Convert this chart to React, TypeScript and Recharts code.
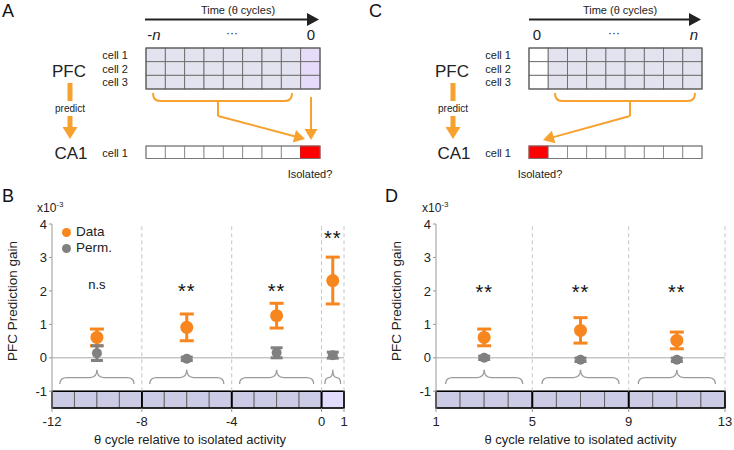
import React from 'react';
import {
  ComposedChart,
  Scatter,
  ErrorBar,
  XAxis,
  YAxis,
  ReferenceLine,
  ReferenceArea,
  Legend,
  Label
} from 'recharts';

const FONT = '"Liberation Sans", Arial, Helvetica, sans-serif';
const ORANGE = '#f7861f';
const GRAY = '#808080';
const ARROW = '#f7a12f';
const CELL = '#cbcbe6';
const CELL_HI = '#e3dcfb';
const SCHEME_CELL = '#e3e3ef';
const SCHEME_HI = '#e6dcfa';

// ---- panel B : PFC cycles before the isolated CA1 activity ----
const bTicks = [-12, -8, -4, 0, 1];
const bData = [
  { x: -10, y: 0.61, err: 0.25 },
  { x: -6, y: 0.91, err: 0.4 },
  { x: -2, y: 1.26, err: 0.37 },
  { x: 0.5, y: 2.31, err: 0.7 }
];
const bPerm = [
  { x: -10, y: 0.14, err: 0.22 },
  { x: -6, y: -0.03, err: 0.05 },
  { x: -2, y: 0.15, err: 0.15 },
  { x: 0.5, y: 0.08, err: 0.09 }
];
const bMarks = [
  { x: -10, y: 2.22, text: 'n.s' },
  { x: -6, y: 2.08, text: '**' },
  { x: -2, y: 2.08, text: '**' },
  { x: 0.5, y: 3.68, text: '**' }
];
const bGroups = [[-12, -8], [-8, -4], [-4, 0], [0, 1]];
const bBraces = [[-11.65, -8.35], [-7.65, -4.35], [-3.65, -0.35], [0.15, 0.85]];
const bDividers = [-8, -4, 0, 1];

// ---- panel D : PFC cycles after the isolated CA1 activity ----
const dTicks = [1, 5, 9, 13];
const dData = [
  { x: 3, y: 0.61, err: 0.25 },
  { x: 7, y: 0.82, err: 0.38 },
  { x: 11, y: 0.52, err: 0.25 }
];
const dPerm = [
  { x: 3, y: 0.0, err: 0.05 },
  { x: 7, y: -0.06, err: 0.05 },
  { x: 11, y: -0.06, err: 0.05 }
];
const dMarks = [
  { x: 3, y: 2.05, text: '**' },
  { x: 7, y: 2.05, text: '**' },
  { x: 11, y: 2.05, text: '**' }
];
const dGroups = [[1, 5], [5, 9], [9, 13]];
const dBraces = [[1.4, 4.6], [5.4, 8.6], [9.4, 12.6]];
const dDividers = [5, 9, 13];

const yTicks = [-1, 0, 1, 2, 3, 4];
const legendItems = [
  { name: 'Data', color: ORANGE },
  { name: 'Perm.', color: GRAY }
];
const cellNames = ['cell 1', 'cell 2', 'cell 3'];

const Brace = (p: any) => {
  const { x, y, width: w, height: h } = p;
  const cx = x + w / 2;
  const m = y + h * 0.55;
  const r = Math.min(h * 0.5, w / 4);
  const d = `M${x},${y + h} Q${x},${m} ${x + r},${m} L${cx - r},${m} Q${cx},${m} ${cx},${y} Q${cx},${m} ${cx + r},${m} L${x + w - r},${m} Q${x + w},${m} ${x + w},${y + h}`;
  return <path d={d} fill="none" stroke="#9a9a9a" strokeWidth={1.3} />;
};

const Mark = (p: any) => {
  const star = p.payload.text === '**';
  return (
    <text
      x={p.cx}
      y={p.cy + (star ? 10 : 5)}
      textAnchor="middle"
      fontSize={star ? 20 : 13}
      letterSpacing={star ? 1 : 0}
      fontFamily={FONT}
      fill="#111"
    >
      {p.payload.text}
    </text>
  );
};

const LegendBox = () => (
  <div style={{ fontFamily: FONT, fontSize: 13.5, color: '#222', lineHeight: '16px' }}>
    {legendItems.map((it) => (
      <div key={it.name} style={{ display: 'flex', alignItems: 'center' }}>
        <span
          style={{ width: 9, height: 9, borderRadius: '50%', background: it.color, marginRight: 5, display: 'inline-block' }}
        />
        {it.name}
      </div>
    ))}
  </div>
);

function unitCells(groups: number[][]) {
  const cells: number[][] = [];
  groups.forEach(([a, b]) => {
    for (let v = a; v < b; v++) cells.push([v, v + 1]);
  });
  return cells;
}

interface GainProps {
  left: number;
  margin: { top: number; right: number; bottom: number; left: number };
  domain: [number, number];
  ticks: number[];
  data: any[];
  perm: any[];
  marks: any[];
  groups: number[][];
  braces: number[][];
  dividers: number[];
  highlight: number[] | null;
  showLegend: boolean;
  labelShift: number;
}

function GainChart(props: GainProps) {
  const cells = unitCells(props.groups);
  return (
    <div style={{ position: 'absolute', left: props.left, top: 0 }}>
      <ComposedChart width={367} height={450} margin={props.margin}>
        <XAxis
          type="number"
          dataKey="x"
          domain={props.domain}
          ticks={props.ticks}
          interval={0}
          allowDataOverflow
          axisLine={false}
          tickLine={{ stroke: '#999' }}
          tickSize={4}
          tickMargin={5}
          height={42}
          tick={{ fontSize: 13, fill: '#222', fontFamily: FONT }}
        >
          <Label
            content={(lp: any) => {
              const vb = lp.viewBox;
              return (
                <text
                  x={vb.x + vb.width / 2 + props.labelShift}
                  y={vb.y + 36}
                  textAnchor="middle"
                  fontSize={13}
                  fontFamily={FONT}
                  fill="#222"
                >
                  θ cycle relative to isolated activity
                </text>
              );
            }}
          />
        </XAxis>
        <YAxis
          type="number"
          dataKey="y"
          domain={[-1.5, 4]}
          ticks={yTicks}
          interval={0}
          width={30}
          axisLine={{ stroke: '#999' }}
          tickLine={{ stroke: '#999' }}
          tickSize={3}
          tickMargin={2}
          tick={{ fontSize: 13, fill: '#222', fontFamily: FONT }}
        >
          <Label
            content={(lp: any) => {
              const vb = lp.viewBox;
              const cx = vb.x - 10;
              const cy = 301;
              return (
                <text
                  x={cx}
                  y={cy}
                  transform={`rotate(-90 ${cx} ${cy})`}
                  textAnchor="middle"
                  dominantBaseline="central"
                  fontSize={13.5}
                  fontFamily={FONT}
                  fill="#222"
                >
                  PFC Prediction gain
                </text>
              );
            }}
          />
        </YAxis>

        <ReferenceLine y={0} stroke="#aaa" strokeWidth={1} />
        {props.dividers.map((d) => (
          <ReferenceLine
            key={`div-${d}`}
            segment={[{ x: d, y: -1 }, { x: d, y: 4 }]}
            stroke="#c6c6c6"
            strokeDasharray="4 3"
          />
        ))}
        {props.braces.map(([a, b]) => (
          <ReferenceArea key={`br-${a}`} x1={a} x2={b} y1={-0.78} y2={-0.36} shape={<Brace />} />
        ))}
        {cells.map(([a, b]) => (
          <ReferenceArea
            key={`cell-${a}`}
            x1={a}
            x2={b}
            y1={-1.5}
            y2={-1}
            fill={props.highlight && props.highlight[0] === a ? CELL_HI : CELL}
            fillOpacity={1}
            stroke="#555"
            strokeWidth={0.8}
          />
        ))}
        {props.groups.map(([a, b]) => (
          <ReferenceArea
            key={`grp-${a}`}
            x1={a}
            x2={b}
            y1={-1.5}
            y2={-1}
            fill="none"
            fillOpacity={0}
            stroke="#000"
            strokeWidth={1.6}
          />
        ))}

        <Scatter
          name="Data"
          data={props.data}
          dataKey="y"
          isAnimationActive={false}
          shape={(p: any) => <circle cx={p.cx} cy={p.cy} r={6.5} fill={ORANGE} />}
        >
          <ErrorBar dataKey="err" direction="y" width={7} stroke={ORANGE} strokeWidth={3} />
        </Scatter>
        <Scatter
          name="Perm."
          data={props.perm}
          dataKey="y"
          isAnimationActive={false}
          shape={(p: any) => <circle cx={p.cx} cy={p.cy} r={5} fill={GRAY} />}
        >
          <ErrorBar dataKey="err" direction="y" width={6} stroke={GRAY} strokeWidth={3} />
        </Scatter>
        <Scatter
          name="marks"
          data={props.marks}
          dataKey="y"
          legendType="none"
          isAnimationActive={false}
          shape={<Mark />}
        />
        {props.showLegend && (
          <Legend
            layout="vertical"
            align="center"
            verticalAlign="middle"
            content={<LegendBox />}
            wrapperStyle={{ left: 62, top: 224, width: 80 }}
          />
        )}
      </ComposedChart>
    </div>
  );
}

function Arrow({ x1, y1, x2, y2 }: { x1: number; y1: number; x2: number; y2: number }) {
  const len = Math.hypot(x2 - x1, y2 - y1);
  const ux = (x2 - x1) / len;
  const uy = (y2 - y1) / len;
  const hl = 11;
  const hw = 6.5;
  const bx = x2 - ux * hl;
  const by = y2 - uy * hl;
  return (
    <g>
      <line x1={x1} y1={y1} x2={bx + ux * 2} y2={by + uy * 2} stroke={ARROW} strokeWidth={2} />
      <polygon
        points={`${x2},${y2} ${bx - uy * hw},${by + ux * hw} ${bx + uy * hw},${by - ux * hw}`}
        fill={ARROW}
      />
    </g>
  );
}

function Schematic({ offset, after }: { offset: number; after: boolean }) {
  const g0 = after ? 162 : 146;
  const g1 = after ? 335 : 320;
  const cw = (g1 - g0) / 9;
  const rh = 41 / 3;
  const labelRight = after ? 144 : 128;
  const areaX = after ? 86 : 70;
  const brace0 = after ? 188 : 153;
  const brace1 = after ? 328 : 292;
  const stem = after ? 263 : 218;
  const cols = Array.from({ length: 9 }, (_, i) => i);
  const txt = { fontFamily: FONT, fill: '#222' } as any;
  const bracePath = `M${brace0},93 Q${brace0},101 ${brace0 + 7},101 L${brace1 - 7},101 Q${brace1},101 ${brace1},93 M${stem},101 L${stem},116`;
  return (
    <svg width={367} height={185} style={{ position: 'absolute', left: offset, top: 0 }}>
      <text x={2} y={17} fontSize={18} {...txt} fill="#111">
        {after ? 'C' : 'A'}
      </text>
      <text x={after ? 253 : 238} y={14} fontSize={11} textAnchor="middle" {...txt}>
        Time (θ cycles)
      </text>
      <line x1={after ? 162 : 145} y1={19.5} x2={after ? 324 : 309} y2={19.5} stroke="#222" strokeWidth={2} />
      <polygon
        points={after ? '322,13 334,19.5 322,26' : '307,13 319,19.5 307,26'}
        fill="#222"
      />
      <text x={after ? 170 : 154} y={40} fontSize={15} textAnchor="middle" {...txt}>
        {after ? '0' : '-'}
        {!after && <tspan fontStyle="italic">n</tspan>}
      </text>
      <text x={after ? 247 : 232} y={37} fontSize={12} textAnchor="middle" {...txt}>
        ···
      </text>
      <text
        x={after ? 327 : 311}
        y={40}
        fontSize={15}
        textAnchor="middle"
        fontStyle={after ? 'italic' : 'normal'}
        {...txt}
      >
        {after ? 'n' : '0'}
      </text>

      {cellNames.map((c, r) =>
        cols.map((i) => {
          const fill = after ? (i === 0 ? '#fff' : SCHEME_CELL) : i === 8 ? SCHEME_HI : SCHEME_CELL;
          return (
            <rect
              key={`${c}-${i}`}
              x={g0 + i * cw}
              y={48 + r * rh}
              width={cw}
              height={rh}
              fill={fill}
              stroke="#6a6a6a"
              strokeWidth={0.9}
            />
          );
        })
      )}
      <rect x={g0} y={48} width={g1 - g0} height={41} fill="none" stroke="#555" strokeWidth={1} />
      {cellNames.map((c, r) => (
        <text key={c} x={labelRight} y={48 + r * rh + rh / 2 + 4} fontSize={11} textAnchor="end" {...txt}>
          {c}
        </text>
      ))}

      <text x={areaX - 1} y={77} fontSize={17} textAnchor="middle" {...txt}>
        PFC
      </text>
      <line x1={areaX} y1={83} x2={areaX} y2={101} stroke={ARROW} strokeWidth={5} />
      <text x={areaX} y={111.5} fontSize={10} textAnchor="middle" {...txt}>
        predict
      </text>
      <line x1={areaX} y1={116} x2={areaX} y2={128} stroke={ARROW} strokeWidth={5} />
      <polygon points={`${areaX - 7.5},127 ${areaX + 7.5},127 ${areaX},139`} fill={ARROW} />
      <text x={areaX + 1} y={159} fontSize={17} textAnchor="middle" {...txt}>
        CA1
      </text>
      <text x={labelRight} y={157} fontSize={11} textAnchor="end" {...txt}>
        cell 1
      </text>
      {cols.map((i) => {
        const red = after ? i === 0 : i === 8;
        return (
          <rect
            key={`ca-${i}`}
            x={g0 + i * cw}
            y={146}
            width={cw}
            height={12.5}
            fill={red ? '#ff0000' : '#fff'}
            stroke={red ? '#d00' : '#8a8a8a'}
            strokeWidth={0.9}
          />
        );
      })}
      <rect x={g0} y={146} width={g1 - g0} height={12.5} fill="none" stroke="#777" strokeWidth={0.9} />
      <text x={after ? 173 : 310} y={178} fontSize={11} textAnchor="middle" {...txt}>
        Isolated?
      </text>

      <path d={bracePath} fill="none" stroke={ARROW} strokeWidth={2} />
      {after ? (
        <Arrow x1={stem} y1={116} x2={176} y2={140} />
      ) : (
        <>
          <Arrow x1={stem} y1={116} x2={305} y2={139} />
          <Arrow x1={311} y1={97} x2={311} y2={140} />
        </>
      )}
    </svg>
  );
}

export default function App() {
  return (
    <div style={{ position: 'absolute', left: 0, top: 0, width: 734, height: 450, background: '#fff', fontFamily: FONT }}>
      <Schematic offset={0} after={false} />
      <Schematic offset={367} after={true} />

      <div style={{ position: 'absolute', left: 2, top: 186, fontSize: 18, color: '#111' }}>B</div>
      <div style={{ position: 'absolute', left: 385, top: 186, fontSize: 18, color: '#111' }}>D</div>
      <div style={{ position: 'absolute', left: 37, top: 200, fontSize: 12, color: '#222' }}>
        x10<sup style={{ fontSize: 8 }}>-3</sup>
      </div>
      <div style={{ position: 'absolute', left: 422, top: 200, fontSize: 12, color: '#222' }}>
        x10<sup style={{ fontSize: 8 }}>-3</sup>
      </div>

      <GainChart
        left={0}
        margin={{ top: 224, right: 23, bottom: 0, left: 22 }}
        domain={[-12, 1]}
        ticks={bTicks}
        data={bData}
        perm={bPerm}
        marks={bMarks}
        groups={bGroups}
        braces={bBraces}
        dividers={bDividers}
        highlight={[0, 1]}
        showLegend={true}
        labelShift={-8}
      />
      <GainChart
        left={367}
        margin={{ top: 224, right: 9, bottom: 0, left: 39 }}
        domain={[1, 13]}
        ticks={dTicks}
        data={dData}
        perm={dPerm}
        marks={dMarks}
        groups={dGroups}
        braces={dBraces}
        dividers={dDividers}
        highlight={null}
        showLegend={false}
        labelShift={0}
      />
    </div>
  );
}
